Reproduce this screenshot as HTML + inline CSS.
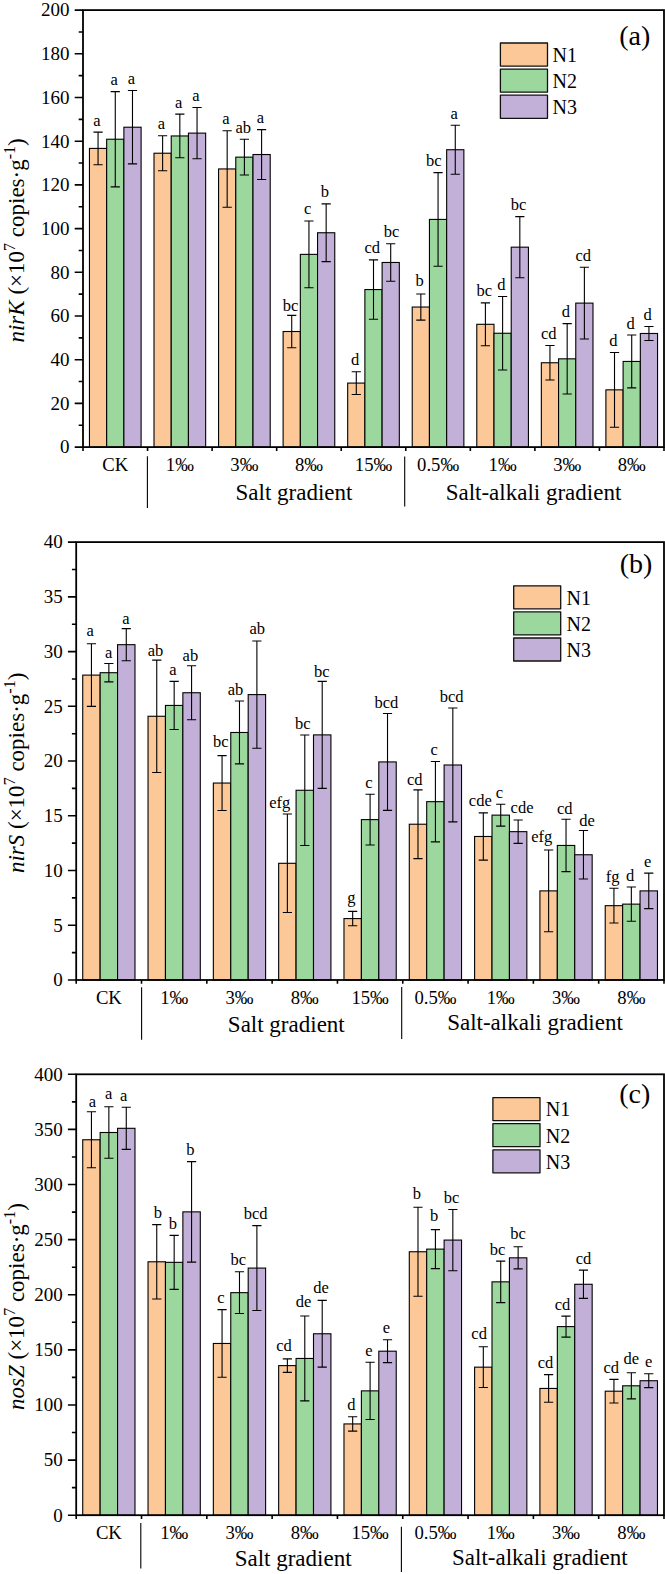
<!DOCTYPE html>
<html><head><meta charset="utf-8"><title>chart</title><style>html,body{margin:0;padding:0;background:#fff}body{width:665px;height:1574px;overflow:hidden;font-family:"Liberation Serif",serif}</style></head><body>
<svg width="665" height="1574" viewBox="0 0 665 1574" style="display:block">
<rect width="665" height="1574" fill="#fff"/>
<g font-family="'Liberation Serif', serif" fill="#000">
<rect x="89.46" y="148.41" width="17.21" height="298.69" fill="#FCC898" stroke="#000" stroke-width="1.1"/>
<rect x="106.67" y="139.23" width="17.21" height="307.87" fill="#9CD89E" stroke="#000" stroke-width="1.1"/>
<rect x="123.89" y="127.22" width="17.21" height="319.88" fill="#C3B0D9" stroke="#000" stroke-width="1.1"/>
<rect x="154.01" y="153.22" width="17.21" height="293.88" fill="#FCC898" stroke="#000" stroke-width="1.1"/>
<rect x="171.23" y="135.96" width="17.21" height="311.14" fill="#9CD89E" stroke="#000" stroke-width="1.1"/>
<rect x="188.44" y="133.12" width="17.21" height="313.98" fill="#C3B0D9" stroke="#000" stroke-width="1.1"/>
<rect x="218.57" y="168.95" width="17.21" height="278.15" fill="#FCC898" stroke="#000" stroke-width="1.1"/>
<rect x="235.78" y="157.15" width="17.21" height="289.95" fill="#9CD89E" stroke="#000" stroke-width="1.1"/>
<rect x="253" y="154.53" width="17.21" height="292.57" fill="#C3B0D9" stroke="#000" stroke-width="1.1"/>
<rect x="283.12" y="331.51" width="17.21" height="115.59" fill="#FCC898" stroke="#000" stroke-width="1.1"/>
<rect x="300.34" y="254.38" width="17.21" height="192.72" fill="#9CD89E" stroke="#000" stroke-width="1.1"/>
<rect x="317.55" y="232.75" width="17.21" height="214.35" fill="#C3B0D9" stroke="#000" stroke-width="1.1"/>
<rect x="347.68" y="383.08" width="17.21" height="64.02" fill="#FCC898" stroke="#000" stroke-width="1.1"/>
<rect x="364.89" y="289.56" width="17.21" height="157.54" fill="#9CD89E" stroke="#000" stroke-width="1.1"/>
<rect x="382.11" y="262.47" width="17.21" height="184.63" fill="#C3B0D9" stroke="#000" stroke-width="1.1"/>
<rect x="412.23" y="307.04" width="17.21" height="140.06" fill="#FCC898" stroke="#000" stroke-width="1.1"/>
<rect x="429.45" y="219.42" width="17.21" height="227.68" fill="#9CD89E" stroke="#000" stroke-width="1.1"/>
<rect x="446.66" y="149.72" width="17.21" height="297.38" fill="#C3B0D9" stroke="#000" stroke-width="1.1"/>
<rect x="476.79" y="324.3" width="17.21" height="122.8" fill="#FCC898" stroke="#000" stroke-width="1.1"/>
<rect x="494" y="333.26" width="17.21" height="113.84" fill="#9CD89E" stroke="#000" stroke-width="1.1"/>
<rect x="511.22" y="247.17" width="17.21" height="199.93" fill="#C3B0D9" stroke="#000" stroke-width="1.1"/>
<rect x="541.34" y="362.76" width="17.21" height="84.34" fill="#FCC898" stroke="#000" stroke-width="1.1"/>
<rect x="558.56" y="358.83" width="17.21" height="88.27" fill="#9CD89E" stroke="#000" stroke-width="1.1"/>
<rect x="575.77" y="303.11" width="17.21" height="143.99" fill="#C3B0D9" stroke="#000" stroke-width="1.1"/>
<rect x="605.9" y="389.85" width="17.21" height="57.25" fill="#FCC898" stroke="#000" stroke-width="1.1"/>
<rect x="623.11" y="361.45" width="17.21" height="85.65" fill="#9CD89E" stroke="#000" stroke-width="1.1"/>
<rect x="640.33" y="333.48" width="17.21" height="113.62" fill="#C3B0D9" stroke="#000" stroke-width="1.1"/>
<path d="M98.06 132.13V164.69M93.46 132.13H102.66M93.46 164.69H102.66" stroke="#000" stroke-width="1.1" fill="none"/>
<text x="96.86" y="125.63" font-size="16.5" text-anchor="middle">a</text>
<path d="M115.28 91.6V186.87M110.68 91.6H119.88M110.68 186.87H119.88" stroke="#000" stroke-width="1.1" fill="none"/>
<text x="114.08" y="85.1" font-size="16.5" text-anchor="middle">a</text>
<path d="M132.49 90.51V163.92M127.89 90.51H137.09M127.89 163.92H137.09" stroke="#000" stroke-width="1.1" fill="none"/>
<text x="131.29" y="84.01" font-size="16.5" text-anchor="middle">a</text>
<path d="M162.62 135.74V170.7M158.02 135.74H167.22M158.02 170.7H167.22" stroke="#000" stroke-width="1.1" fill="none"/>
<text x="161.42" y="129.24" font-size="16.5" text-anchor="middle">a</text>
<path d="M179.83 114.11V157.81M175.23 114.11H184.43M175.23 157.81H184.43" stroke="#000" stroke-width="1.1" fill="none"/>
<text x="178.63" y="107.61" font-size="16.5" text-anchor="middle">a</text>
<path d="M197.05 107.55V158.68M192.45 107.55H201.65M192.45 158.68H201.65" stroke="#000" stroke-width="1.1" fill="none"/>
<text x="195.85" y="101.05" font-size="16.5" text-anchor="middle">a</text>
<path d="M227.17 130.71V207.19M222.57 130.71H231.77M222.57 207.19H231.77" stroke="#000" stroke-width="1.1" fill="none"/>
<text x="225.97" y="124.21" font-size="16.5" text-anchor="middle">a</text>
<path d="M244.39 139.23V175.07M239.79 139.23H248.99M239.79 175.07H248.99" stroke="#000" stroke-width="1.1" fill="none"/>
<text x="243.19" y="132.73" font-size="16.5" text-anchor="middle">ab</text>
<path d="M261.6 129.62V179.44M257 129.62H266.2M257 179.44H266.2" stroke="#000" stroke-width="1.1" fill="none"/>
<text x="260.4" y="123.12" font-size="16.5" text-anchor="middle">a</text>
<path d="M291.73 315.34V347.68M287.13 315.34H296.33M287.13 347.68H296.33" stroke="#000" stroke-width="1.1" fill="none"/>
<text x="290.53" y="311.24" font-size="16.5" text-anchor="middle">bc</text>
<path d="M308.94 220.95V287.81M304.34 220.95H313.54M304.34 287.81H313.54" stroke="#000" stroke-width="1.1" fill="none"/>
<text x="307.74" y="214.45" font-size="16.5" text-anchor="middle">c</text>
<path d="M326.16 203.91V261.59M321.56 203.91H330.76M321.56 261.59H330.76" stroke="#000" stroke-width="1.1" fill="none"/>
<text x="324.96" y="197.41" font-size="16.5" text-anchor="middle">b</text>
<path d="M356.29 371.72V394.44M351.69 371.72H360.89M351.69 394.44H360.89" stroke="#000" stroke-width="1.1" fill="none"/>
<text x="355.09" y="365.22" font-size="16.5" text-anchor="middle">d</text>
<path d="M373.5 259.85V319.28M368.9 259.85H378.1M368.9 319.28H378.1" stroke="#000" stroke-width="1.1" fill="none"/>
<text x="372.3" y="253.35" font-size="16.5" text-anchor="middle">cd</text>
<path d="M390.71 243.68V281.26M386.11 243.68H395.31M386.11 281.26H395.31" stroke="#000" stroke-width="1.1" fill="none"/>
<text x="391.51" y="237.18" font-size="16.5" text-anchor="middle">bc</text>
<path d="M420.84 293.93V320.15M416.24 293.93H425.44M416.24 320.15H425.44" stroke="#000" stroke-width="1.1" fill="none"/>
<text x="419.64" y="285.93" font-size="16.5" text-anchor="middle">b</text>
<path d="M438.06 172.66V266.18M433.46 172.66H442.66M433.46 266.18H442.66" stroke="#000" stroke-width="1.1" fill="none"/>
<text x="433.86" y="166.16" font-size="16.5" text-anchor="middle">bc</text>
<path d="M455.27 125.25V174.19M450.67 125.25H459.87M450.67 174.19H459.87" stroke="#000" stroke-width="1.1" fill="none"/>
<text x="454.07" y="118.75" font-size="16.5" text-anchor="middle">a</text>
<path d="M485.4 302.89V345.72M480.8 302.89H490M480.8 345.72H490" stroke="#000" stroke-width="1.1" fill="none"/>
<text x="484.2" y="296.39" font-size="16.5" text-anchor="middle">bc</text>
<path d="M502.61 296.55V369.97M498.01 296.55H507.21M498.01 369.97H507.21" stroke="#000" stroke-width="1.1" fill="none"/>
<text x="501.41" y="290.05" font-size="16.5" text-anchor="middle">d</text>
<path d="M519.83 216.58V277.76M515.23 216.58H524.43M515.23 277.76H524.43" stroke="#000" stroke-width="1.1" fill="none"/>
<text x="518.63" y="210.08" font-size="16.5" text-anchor="middle">bc</text>
<path d="M549.95 345.5V380.02M545.35 345.5H554.55M545.35 380.02H554.55" stroke="#000" stroke-width="1.1" fill="none"/>
<text x="548.75" y="339" font-size="16.5" text-anchor="middle">cd</text>
<path d="M567.17 323.65V394M562.57 323.65H571.77M562.57 394H571.77" stroke="#000" stroke-width="1.1" fill="none"/>
<text x="565.97" y="317.15" font-size="16.5" text-anchor="middle">d</text>
<path d="M584.38 267.27V338.94M579.78 267.27H588.98M579.78 338.94H588.98" stroke="#000" stroke-width="1.1" fill="none"/>
<text x="583.18" y="260.77" font-size="16.5" text-anchor="middle">cd</text>
<path d="M614.51 352.49V427.22M609.91 352.49H619.11M609.91 427.22H619.11" stroke="#000" stroke-width="1.1" fill="none"/>
<text x="613.31" y="345.99" font-size="16.5" text-anchor="middle">d</text>
<path d="M631.72 335.01V387.89M627.12 335.01H636.32M627.12 387.89H636.32" stroke="#000" stroke-width="1.1" fill="none"/>
<text x="630.52" y="328.51" font-size="16.5" text-anchor="middle">d</text>
<path d="M648.94 326.49V340.47M644.34 326.49H653.54M644.34 340.47H653.54" stroke="#000" stroke-width="1.1" fill="none"/>
<text x="647.74" y="319.99" font-size="16.5" text-anchor="middle">d</text>
<rect x="83" y="10.1" width="581" height="437" fill="none" stroke="#000" stroke-width="1.8"/>
<text x="69.6" y="453.4" font-size="19" text-anchor="end">0</text>
<text x="69.6" y="409.7" font-size="19" text-anchor="end">20</text>
<text x="69.6" y="366" font-size="19" text-anchor="end">40</text>
<text x="69.6" y="322.3" font-size="19" text-anchor="end">60</text>
<text x="69.6" y="278.6" font-size="19" text-anchor="end">80</text>
<text x="69.6" y="234.9" font-size="19" text-anchor="end">100</text>
<text x="69.6" y="191.2" font-size="19" text-anchor="end">120</text>
<text x="69.6" y="147.5" font-size="19" text-anchor="end">140</text>
<text x="69.6" y="103.8" font-size="19" text-anchor="end">160</text>
<text x="69.6" y="60.1" font-size="19" text-anchor="end">180</text>
<text x="69.6" y="16.4" font-size="19" text-anchor="end">200</text>
<path d="M74.7 447.1H83M78.7 425.25H83M74.7 403.4H83M78.7 381.55H83M74.7 359.7H83M78.7 337.85H83M74.7 316H83M78.7 294.15H83M74.7 272.3H83M78.7 250.45H83M74.7 228.6H83M78.7 206.75H83M74.7 184.9H83M78.7 163.05H83M74.7 141.2H83M78.7 119.35H83M74.7 97.5H83M78.7 75.65H83M74.7 53.8H83M78.7 31.95H83M74.7 10.1H83M83 447.1V450.9M147.56 447.1V450.9M212.11 447.1V450.9M276.67 447.1V450.9M341.22 447.1V450.9M405.78 447.1V450.9M470.33 447.1V450.9M534.89 447.1V450.9M599.44 447.1V450.9M664 447.1V450.9" stroke="#000" stroke-width="1.6" fill="none"/>
<text x="115.28" y="471.2" font-size="18.7" text-anchor="middle">CK</text>
<text x="179.83" y="471.2" font-size="18.7" text-anchor="middle">1‰</text>
<text x="244.39" y="471.2" font-size="18.7" text-anchor="middle">3‰</text>
<text x="308.94" y="471.2" font-size="18.7" text-anchor="middle">8‰</text>
<text x="373.5" y="471.2" font-size="18.7" text-anchor="middle">15‰</text>
<text x="438.06" y="471.2" font-size="18.7" text-anchor="middle">0.5‰</text>
<text x="502.61" y="471.2" font-size="18.7" text-anchor="middle">1‰</text>
<text x="567.17" y="471.2" font-size="18.7" text-anchor="middle">3‰</text>
<text x="631.72" y="471.2" font-size="18.7" text-anchor="middle">8‰</text>
<path d="M147.4 456.3V507.9" stroke="#000" stroke-width="1.1" fill="none"/>
<path d="M404.7 456.6V506.5" stroke="#000" stroke-width="1.1" fill="none"/>
<text x="294" y="499.9" font-size="23" text-anchor="middle">Salt gradient</text>
<text x="533.5" y="499.7" font-size="23" text-anchor="middle">Salt-alkali gradient</text>
<rect x="500.4" y="43" width="47.1" height="23.1" fill="#FCC898" stroke="#111" stroke-width="1.3" stroke-linejoin="round"/>
<text x="552.6" y="61.8" font-size="20">N1</text>
<rect x="500.4" y="69.1" width="47.1" height="23.1" fill="#9CD89E" stroke="#111" stroke-width="1.3" stroke-linejoin="round"/>
<text x="552.6" y="87.9" font-size="20">N2</text>
<rect x="500.4" y="95.2" width="47.1" height="23.1" fill="#C3B0D9" stroke="#111" stroke-width="1.3" stroke-linejoin="round"/>
<text x="552.6" y="114" font-size="20">N3</text>
<text x="634.8" y="44.9" font-size="28" text-anchor="middle">(a)</text>
<text transform="translate(24.2 240.4) rotate(-90)" font-size="23" text-anchor="middle"><tspan font-style="italic">nirK</tspan> (×10<tspan font-size="16" dy="-9.3">7</tspan><tspan dy="9.3"> copies·g</tspan><tspan font-size="16" dy="-9.3">-1</tspan><tspan dy="9.3">)</tspan></text>
<rect x="82.73" y="675.11" width="17.42" height="304.89" fill="#FCC898" stroke="#000" stroke-width="1.1"/>
<rect x="100.15" y="672.7" width="17.42" height="307.3" fill="#9CD89E" stroke="#000" stroke-width="1.1"/>
<rect x="117.56" y="644.68" width="17.42" height="335.32" fill="#C3B0D9" stroke="#000" stroke-width="1.1"/>
<rect x="148.04" y="716.27" width="17.42" height="263.73" fill="#FCC898" stroke="#000" stroke-width="1.1"/>
<rect x="165.46" y="705.44" width="17.42" height="274.56" fill="#9CD89E" stroke="#000" stroke-width="1.1"/>
<rect x="182.87" y="692.74" width="17.42" height="287.26" fill="#C3B0D9" stroke="#000" stroke-width="1.1"/>
<rect x="213.35" y="783.05" width="17.42" height="196.95" fill="#FCC898" stroke="#000" stroke-width="1.1"/>
<rect x="230.77" y="732.48" width="17.42" height="247.52" fill="#9CD89E" stroke="#000" stroke-width="1.1"/>
<rect x="248.19" y="694.6" width="17.42" height="285.4" fill="#C3B0D9" stroke="#000" stroke-width="1.1"/>
<rect x="278.66" y="863.3" width="17.42" height="116.7" fill="#FCC898" stroke="#000" stroke-width="1.1"/>
<rect x="296.08" y="790.28" width="17.42" height="189.72" fill="#9CD89E" stroke="#000" stroke-width="1.1"/>
<rect x="313.5" y="734.89" width="17.42" height="245.11" fill="#C3B0D9" stroke="#000" stroke-width="1.1"/>
<rect x="343.98" y="918.58" width="17.42" height="61.42" fill="#FCC898" stroke="#000" stroke-width="1.1"/>
<rect x="361.39" y="819.62" width="17.42" height="160.38" fill="#9CD89E" stroke="#000" stroke-width="1.1"/>
<rect x="378.81" y="761.93" width="17.42" height="218.07" fill="#C3B0D9" stroke="#000" stroke-width="1.1"/>
<rect x="409.29" y="824.22" width="17.42" height="155.78" fill="#FCC898" stroke="#000" stroke-width="1.1"/>
<rect x="426.7" y="801.67" width="17.42" height="178.33" fill="#9CD89E" stroke="#000" stroke-width="1.1"/>
<rect x="444.12" y="764.99" width="17.42" height="215.01" fill="#C3B0D9" stroke="#000" stroke-width="1.1"/>
<rect x="474.6" y="836.48" width="17.42" height="143.52" fill="#FCC898" stroke="#000" stroke-width="1.1"/>
<rect x="492.01" y="815.13" width="17.42" height="164.87" fill="#9CD89E" stroke="#000" stroke-width="1.1"/>
<rect x="509.43" y="831.66" width="17.42" height="148.34" fill="#C3B0D9" stroke="#000" stroke-width="1.1"/>
<rect x="539.91" y="890.89" width="17.42" height="89.11" fill="#FCC898" stroke="#000" stroke-width="1.1"/>
<rect x="557.33" y="845.46" width="17.42" height="134.54" fill="#9CD89E" stroke="#000" stroke-width="1.1"/>
<rect x="574.74" y="854.76" width="17.42" height="125.24" fill="#C3B0D9" stroke="#000" stroke-width="1.1"/>
<rect x="605.22" y="905.67" width="17.42" height="74.33" fill="#FCC898" stroke="#000" stroke-width="1.1"/>
<rect x="622.64" y="904.13" width="17.42" height="75.87" fill="#9CD89E" stroke="#000" stroke-width="1.1"/>
<rect x="640.05" y="890.89" width="17.42" height="89.11" fill="#C3B0D9" stroke="#000" stroke-width="1.1"/>
<path d="M91.44 643.8V706.42M86.84 643.8H96.04M86.84 706.42H96.04" stroke="#000" stroke-width="1.1" fill="none"/>
<text x="90.24" y="636.1" font-size="16.5" text-anchor="middle">a</text>
<path d="M108.86 663.51V681.9M104.26 663.51H113.46M104.26 681.9H113.46" stroke="#000" stroke-width="1.1" fill="none"/>
<text x="108.56" y="657.61" font-size="16.5" text-anchor="middle">a</text>
<path d="M126.27 628.59V660.77M121.67 628.59H130.87M121.67 660.77H130.87" stroke="#000" stroke-width="1.1" fill="none"/>
<text x="125.97" y="623.89" font-size="16.5" text-anchor="middle">a</text>
<path d="M156.75 660.11V772.44M152.15 660.11H161.35M152.15 772.44H161.35" stroke="#000" stroke-width="1.1" fill="none"/>
<text x="155.55" y="656.31" font-size="16.5" text-anchor="middle">ab</text>
<path d="M174.17 681.35V729.52M169.57 681.35H178.77M169.57 729.52H178.77" stroke="#000" stroke-width="1.1" fill="none"/>
<text x="172.97" y="674.85" font-size="16.5" text-anchor="middle">a</text>
<path d="M191.58 665.7V719.78M186.98 665.7H196.18M186.98 719.78H196.18" stroke="#000" stroke-width="1.1" fill="none"/>
<text x="190.38" y="660.7" font-size="16.5" text-anchor="middle">ab</text>
<path d="M222.06 755.58V810.53M217.46 755.58H226.66M217.46 810.53H226.66" stroke="#000" stroke-width="1.1" fill="none"/>
<text x="220.86" y="746.98" font-size="16.5" text-anchor="middle">bc</text>
<path d="M239.48 701.06V763.9M234.88 701.06H244.08M234.88 763.9H244.08" stroke="#000" stroke-width="1.1" fill="none"/>
<text x="235.58" y="694.56" font-size="16.5" text-anchor="middle">ab</text>
<path d="M256.89 640.96V748.24M252.29 640.96H261.49M252.29 748.24H261.49" stroke="#000" stroke-width="1.1" fill="none"/>
<text x="257.19" y="634.46" font-size="16.5" text-anchor="middle">ab</text>
<path d="M287.37 814.04V912.56M282.77 814.04H291.97M282.77 912.56H291.97" stroke="#000" stroke-width="1.1" fill="none"/>
<text x="279.67" y="807.54" font-size="16.5" text-anchor="middle">efg</text>
<path d="M304.79 734.99V845.56M300.19 734.99H309.39M300.19 845.56H309.39" stroke="#000" stroke-width="1.1" fill="none"/>
<text x="302.69" y="729.39" font-size="16.5" text-anchor="middle">bc</text>
<path d="M322.21 681.35V788.42M317.61 681.35H326.81M317.61 788.42H326.81" stroke="#000" stroke-width="1.1" fill="none"/>
<text x="321.91" y="677.25" font-size="16.5" text-anchor="middle">bc</text>
<path d="M352.68 911.36V925.81M348.08 911.36H357.28M348.08 925.81H357.28" stroke="#000" stroke-width="1.1" fill="none"/>
<text x="351.48" y="903.36" font-size="16.5" text-anchor="middle">g</text>
<path d="M370.1 794.22V845.02M365.5 794.22H374.7M365.5 845.02H374.7" stroke="#000" stroke-width="1.1" fill="none"/>
<text x="368.9" y="787.72" font-size="16.5" text-anchor="middle">c</text>
<path d="M387.52 713.43V810.42M382.92 713.43H392.12M382.92 810.42H392.12" stroke="#000" stroke-width="1.1" fill="none"/>
<text x="386.32" y="708.43" font-size="16.5" text-anchor="middle">bcd</text>
<path d="M417.99 789.84V858.59M413.39 789.84H422.59M413.39 858.59H422.59" stroke="#000" stroke-width="1.1" fill="none"/>
<text x="414.69" y="784.54" font-size="16.5" text-anchor="middle">cd</text>
<path d="M435.41 761.49V841.84M430.81 761.49H440.01M430.81 841.84H440.01" stroke="#000" stroke-width="1.1" fill="none"/>
<text x="434.21" y="754.99" font-size="16.5" text-anchor="middle">c</text>
<path d="M452.83 708.06V821.92M448.23 708.06H457.43M448.23 821.92H457.43" stroke="#000" stroke-width="1.1" fill="none"/>
<text x="451.63" y="701.56" font-size="16.5" text-anchor="middle">bcd</text>
<path d="M483.31 812.83V860.12M478.71 812.83H487.91M478.71 860.12H487.91" stroke="#000" stroke-width="1.1" fill="none"/>
<text x="480.31" y="806.33" font-size="16.5" text-anchor="middle">cde</text>
<path d="M500.72 804.18V826.08M496.12 804.18H505.32M496.12 826.08H505.32" stroke="#000" stroke-width="1.1" fill="none"/>
<text x="499.52" y="797.68" font-size="16.5" text-anchor="middle">c</text>
<path d="M518.14 819.95V843.38M513.54 819.95H522.74M513.54 843.38H522.74" stroke="#000" stroke-width="1.1" fill="none"/>
<text x="522.04" y="813.45" font-size="16.5" text-anchor="middle">cde</text>
<path d="M548.62 850.05V931.72M544.02 850.05H553.22M544.02 931.72H553.22" stroke="#000" stroke-width="1.1" fill="none"/>
<text x="541.72" y="842.05" font-size="16.5" text-anchor="middle">efg</text>
<path d="M566.03 819.29V871.62M561.43 819.29H570.63M561.43 871.62H570.63" stroke="#000" stroke-width="1.1" fill="none"/>
<text x="564.83" y="814.29" font-size="16.5" text-anchor="middle">cd</text>
<path d="M583.45 830.57V878.95M578.85 830.57H588.05M578.85 878.95H588.05" stroke="#000" stroke-width="1.1" fill="none"/>
<text x="587.05" y="826.17" font-size="16.5" text-anchor="middle">de</text>
<path d="M613.93 888.26V923.07M609.33 888.26H618.53M609.33 923.07H618.53" stroke="#000" stroke-width="1.1" fill="none"/>
<text x="612.73" y="881.76" font-size="16.5" text-anchor="middle">fg</text>
<path d="M631.34 887.06V921.21M626.74 887.06H635.94M626.74 921.21H635.94" stroke="#000" stroke-width="1.1" fill="none"/>
<text x="630.14" y="880.56" font-size="16.5" text-anchor="middle">d</text>
<path d="M648.76 873.15V908.62M644.16 873.15H653.36M644.16 908.62H653.36" stroke="#000" stroke-width="1.1" fill="none"/>
<text x="647.56" y="866.65" font-size="16.5" text-anchor="middle">e</text>
<rect x="76.2" y="542.1" width="587.8" height="437.9" fill="none" stroke="#000" stroke-width="1.8"/>
<text x="62.8" y="986.3" font-size="19" text-anchor="end">0</text>
<text x="62.8" y="931.56" font-size="19" text-anchor="end">5</text>
<text x="62.8" y="876.82" font-size="19" text-anchor="end">10</text>
<text x="62.8" y="822.09" font-size="19" text-anchor="end">15</text>
<text x="62.8" y="767.35" font-size="19" text-anchor="end">20</text>
<text x="62.8" y="712.61" font-size="19" text-anchor="end">25</text>
<text x="62.8" y="657.88" font-size="19" text-anchor="end">30</text>
<text x="62.8" y="603.14" font-size="19" text-anchor="end">35</text>
<text x="62.8" y="548.4" font-size="19" text-anchor="end">40</text>
<path d="M67.9 980H76.2M71.9 952.63H76.2M67.9 925.26H76.2M71.9 897.89H76.2M67.9 870.52H76.2M71.9 843.16H76.2M67.9 815.79H76.2M71.9 788.42H76.2M67.9 761.05H76.2M71.9 733.68H76.2M67.9 706.31H76.2M71.9 678.94H76.2M67.9 651.58H76.2M71.9 624.21H76.2M67.9 596.84H76.2M71.9 569.47H76.2M67.9 542.1H76.2M76.2 980V983.8M141.51 980V983.8M206.82 980V983.8M272.13 980V983.8M337.44 980V983.8M402.76 980V983.8M468.07 980V983.8M533.38 980V983.8M598.69 980V983.8M664 980V983.8" stroke="#000" stroke-width="1.6" fill="none"/>
<text x="108.86" y="1004.1" font-size="18.7" text-anchor="middle">CK</text>
<text x="174.17" y="1004.1" font-size="18.7" text-anchor="middle">1‰</text>
<text x="239.48" y="1004.1" font-size="18.7" text-anchor="middle">3‰</text>
<text x="304.79" y="1004.1" font-size="18.7" text-anchor="middle">8‰</text>
<text x="370.1" y="1004.1" font-size="18.7" text-anchor="middle">15‰</text>
<text x="435.41" y="1004.1" font-size="18.7" text-anchor="middle">0.5‰</text>
<text x="500.72" y="1004.1" font-size="18.7" text-anchor="middle">1‰</text>
<text x="566.03" y="1004.1" font-size="18.7" text-anchor="middle">3‰</text>
<text x="631.34" y="1004.1" font-size="18.7" text-anchor="middle">8‰</text>
<path d="M141.6 987.3V1039.7" stroke="#000" stroke-width="1.1" fill="none"/>
<path d="M401.7 987V1039.1" stroke="#000" stroke-width="1.1" fill="none"/>
<text x="286.3" y="1031.5" font-size="23" text-anchor="middle">Salt gradient</text>
<text x="535" y="1030" font-size="23" text-anchor="middle">Salt-alkali gradient</text>
<rect x="513.7" y="585.8" width="47" height="23" fill="#FCC898" stroke="#111" stroke-width="1.3" stroke-linejoin="round"/>
<text x="566.6" y="604.6" font-size="20">N1</text>
<rect x="513.7" y="611.9" width="47" height="23" fill="#9CD89E" stroke="#111" stroke-width="1.3" stroke-linejoin="round"/>
<text x="566.6" y="630.7" font-size="20">N2</text>
<rect x="513.7" y="638" width="47" height="23" fill="#C3B0D9" stroke="#111" stroke-width="1.3" stroke-linejoin="round"/>
<text x="566.6" y="656.8" font-size="20">N3</text>
<text x="636" y="573" font-size="28" text-anchor="middle">(b)</text>
<text transform="translate(24.2 772.9) rotate(-90)" font-size="23" text-anchor="middle"><tspan font-style="italic">nirS</tspan> (×10<tspan font-size="16" dy="-9.3">7</tspan><tspan dy="9.3"> copies·g</tspan><tspan font-size="16" dy="-9.3">-1</tspan><tspan dy="9.3">)</tspan></text>
<rect x="82.73" y="1139.77" width="17.42" height="375.43" fill="#FCC898" stroke="#000" stroke-width="1.1"/>
<rect x="100.15" y="1132.5" width="17.42" height="382.7" fill="#9CD89E" stroke="#000" stroke-width="1.1"/>
<rect x="117.56" y="1128.31" width="17.42" height="386.89" fill="#C3B0D9" stroke="#000" stroke-width="1.1"/>
<rect x="148.04" y="1261.79" width="17.42" height="253.41" fill="#FCC898" stroke="#000" stroke-width="1.1"/>
<rect x="165.46" y="1262.34" width="17.42" height="252.86" fill="#9CD89E" stroke="#000" stroke-width="1.1"/>
<rect x="182.87" y="1211.86" width="17.42" height="303.34" fill="#C3B0D9" stroke="#000" stroke-width="1.1"/>
<rect x="213.35" y="1343.47" width="17.42" height="171.73" fill="#FCC898" stroke="#000" stroke-width="1.1"/>
<rect x="230.77" y="1292.66" width="17.42" height="222.54" fill="#9CD89E" stroke="#000" stroke-width="1.1"/>
<rect x="248.19" y="1268.08" width="17.42" height="247.12" fill="#C3B0D9" stroke="#000" stroke-width="1.1"/>
<rect x="278.66" y="1365.62" width="17.42" height="149.58" fill="#FCC898" stroke="#000" stroke-width="1.1"/>
<rect x="296.08" y="1358.46" width="17.42" height="156.74" fill="#9CD89E" stroke="#000" stroke-width="1.1"/>
<rect x="313.5" y="1333.77" width="17.42" height="181.43" fill="#C3B0D9" stroke="#000" stroke-width="1.1"/>
<rect x="343.98" y="1423.93" width="17.42" height="91.27" fill="#FCC898" stroke="#000" stroke-width="1.1"/>
<rect x="361.39" y="1390.87" width="17.42" height="124.33" fill="#9CD89E" stroke="#000" stroke-width="1.1"/>
<rect x="378.81" y="1351.19" width="17.42" height="164.01" fill="#C3B0D9" stroke="#000" stroke-width="1.1"/>
<rect x="409.29" y="1251.76" width="17.42" height="263.44" fill="#FCC898" stroke="#000" stroke-width="1.1"/>
<rect x="426.7" y="1249.12" width="17.42" height="266.08" fill="#9CD89E" stroke="#000" stroke-width="1.1"/>
<rect x="444.12" y="1240.08" width="17.42" height="275.12" fill="#C3B0D9" stroke="#000" stroke-width="1.1"/>
<rect x="474.6" y="1367.17" width="17.42" height="148.03" fill="#FCC898" stroke="#000" stroke-width="1.1"/>
<rect x="492.01" y="1281.85" width="17.42" height="233.35" fill="#9CD89E" stroke="#000" stroke-width="1.1"/>
<rect x="509.43" y="1257.82" width="17.42" height="257.38" fill="#C3B0D9" stroke="#000" stroke-width="1.1"/>
<rect x="539.91" y="1388.44" width="17.42" height="126.76" fill="#FCC898" stroke="#000" stroke-width="1.1"/>
<rect x="557.33" y="1326.61" width="17.42" height="188.59" fill="#9CD89E" stroke="#000" stroke-width="1.1"/>
<rect x="574.74" y="1284.28" width="17.42" height="230.92" fill="#C3B0D9" stroke="#000" stroke-width="1.1"/>
<rect x="605.22" y="1391.2" width="17.42" height="124" fill="#FCC898" stroke="#000" stroke-width="1.1"/>
<rect x="622.64" y="1385.8" width="17.42" height="129.4" fill="#9CD89E" stroke="#000" stroke-width="1.1"/>
<rect x="640.05" y="1380.73" width="17.42" height="134.47" fill="#C3B0D9" stroke="#000" stroke-width="1.1"/>
<path d="M91.44 1111.78V1167.77M86.84 1111.78H96.04M86.84 1167.77H96.04" stroke="#000" stroke-width="1.1" fill="none"/>
<text x="92.34" y="1106.78" font-size="16.5" text-anchor="middle">a</text>
<path d="M108.86 1106.82V1158.18M104.26 1106.82H113.46M104.26 1158.18H113.46" stroke="#000" stroke-width="1.1" fill="none"/>
<text x="108.56" y="1099.42" font-size="16.5" text-anchor="middle">a</text>
<path d="M126.27 1107.26V1149.36M121.67 1107.26H130.87M121.67 1149.36H130.87" stroke="#000" stroke-width="1.1" fill="none"/>
<text x="123.57" y="1101.36" font-size="16.5" text-anchor="middle">a</text>
<path d="M156.75 1224.65V1298.94M152.15 1224.65H161.35M152.15 1298.94H161.35" stroke="#000" stroke-width="1.1" fill="none"/>
<text x="157.75" y="1218.15" font-size="16.5" text-anchor="middle">b</text>
<path d="M174.17 1235.34V1289.35M169.57 1235.34H178.77M169.57 1289.35H178.77" stroke="#000" stroke-width="1.1" fill="none"/>
<text x="172.97" y="1228.84" font-size="16.5" text-anchor="middle">b</text>
<path d="M191.58 1161.6V1262.12M186.98 1161.6H196.18M186.98 1262.12H196.18" stroke="#000" stroke-width="1.1" fill="none"/>
<text x="190.38" y="1155.1" font-size="16.5" text-anchor="middle">b</text>
<path d="M222.06 1309.63V1377.31M217.46 1309.63H226.66M217.46 1377.31H226.66" stroke="#000" stroke-width="1.1" fill="none"/>
<text x="220.86" y="1303.13" font-size="16.5" text-anchor="middle">c</text>
<path d="M239.48 1271.82V1313.49M234.88 1271.82H244.08M234.88 1313.49H244.08" stroke="#000" stroke-width="1.1" fill="none"/>
<text x="238.28" y="1265.32" font-size="16.5" text-anchor="middle">bc</text>
<path d="M256.89 1225.64V1310.51M252.29 1225.64H261.49M252.29 1310.51H261.49" stroke="#000" stroke-width="1.1" fill="none"/>
<text x="255.69" y="1219.14" font-size="16.5" text-anchor="middle">bcd</text>
<path d="M287.37 1358.9V1372.35M282.77 1358.9H291.97M282.77 1372.35H291.97" stroke="#000" stroke-width="1.1" fill="none"/>
<text x="284.07" y="1350.9" font-size="16.5" text-anchor="middle">cd</text>
<path d="M304.79 1316.02V1400.9M300.19 1316.02H309.39M300.19 1400.9H309.39" stroke="#000" stroke-width="1.1" fill="none"/>
<text x="303.59" y="1306.52" font-size="16.5" text-anchor="middle">de</text>
<path d="M322.21 1300.37V1367.17M317.61 1300.37H326.81M317.61 1367.17H326.81" stroke="#000" stroke-width="1.1" fill="none"/>
<text x="321.01" y="1292.67" font-size="16.5" text-anchor="middle">de</text>
<path d="M352.68 1416.77V1431.1M348.08 1416.77H357.28M348.08 1431.1H357.28" stroke="#000" stroke-width="1.1" fill="none"/>
<text x="351.48" y="1410.27" font-size="16.5" text-anchor="middle">d</text>
<path d="M370.1 1362.21V1419.52M365.5 1362.21H374.7M365.5 1419.52H374.7" stroke="#000" stroke-width="1.1" fill="none"/>
<text x="368.9" y="1355.71" font-size="16.5" text-anchor="middle">e</text>
<path d="M387.52 1339.72V1362.65M382.92 1339.72H392.12M382.92 1362.65H392.12" stroke="#000" stroke-width="1.1" fill="none"/>
<text x="386.32" y="1333.22" font-size="16.5" text-anchor="middle">e</text>
<path d="M417.99 1207.23V1296.29M413.39 1207.23H422.59M413.39 1296.29H422.59" stroke="#000" stroke-width="1.1" fill="none"/>
<text x="416.79" y="1199.23" font-size="16.5" text-anchor="middle">b</text>
<path d="M435.41 1229.61V1268.63M430.81 1229.61H440.01M430.81 1268.63H440.01" stroke="#000" stroke-width="1.1" fill="none"/>
<text x="434.21" y="1221.01" font-size="16.5" text-anchor="middle">b</text>
<path d="M452.83 1209.44V1270.72M448.23 1209.44H457.43M448.23 1270.72H457.43" stroke="#000" stroke-width="1.1" fill="none"/>
<text x="451.63" y="1202.94" font-size="16.5" text-anchor="middle">bc</text>
<path d="M483.31 1346.78V1387.56M478.71 1346.78H487.91M478.71 1387.56H487.91" stroke="#000" stroke-width="1.1" fill="none"/>
<text x="479.11" y="1338.78" font-size="16.5" text-anchor="middle">cd</text>
<path d="M500.72 1261.13V1302.58M496.12 1261.13H505.32M496.12 1302.58H505.32" stroke="#000" stroke-width="1.1" fill="none"/>
<text x="497.52" y="1254.63" font-size="16.5" text-anchor="middle">bc</text>
<path d="M518.14 1246.8V1268.85M513.54 1246.8H522.74M513.54 1268.85H522.74" stroke="#000" stroke-width="1.1" fill="none"/>
<text x="518.14" y="1238.8" font-size="16.5" text-anchor="middle">bc</text>
<path d="M548.62 1374.66V1402.22M544.02 1374.66H553.22M544.02 1402.22H553.22" stroke="#000" stroke-width="1.1" fill="none"/>
<text x="545.42" y="1368.16" font-size="16.5" text-anchor="middle">cd</text>
<path d="M566.03 1316.13V1337.08M561.43 1316.13H570.63M561.43 1337.08H570.63" stroke="#000" stroke-width="1.1" fill="none"/>
<text x="562.53" y="1309.63" font-size="16.5" text-anchor="middle">cd</text>
<path d="M583.45 1270.17V1298.39M578.85 1270.17H588.05M578.85 1298.39H588.05" stroke="#000" stroke-width="1.1" fill="none"/>
<text x="583.45" y="1263.67" font-size="16.5" text-anchor="middle">cd</text>
<path d="M613.93 1379.4V1402.99M609.33 1379.4H618.53M609.33 1402.99H618.53" stroke="#000" stroke-width="1.1" fill="none"/>
<text x="611.33" y="1372.9" font-size="16.5" text-anchor="middle">cd</text>
<path d="M631.34 1372.68V1398.91M626.74 1372.68H635.94M626.74 1398.91H635.94" stroke="#000" stroke-width="1.1" fill="none"/>
<text x="631.34" y="1363.68" font-size="16.5" text-anchor="middle">de</text>
<path d="M648.76 1373.78V1387.67M644.16 1373.78H653.36M644.16 1387.67H653.36" stroke="#000" stroke-width="1.1" fill="none"/>
<text x="648.76" y="1367.28" font-size="16.5" text-anchor="middle">e</text>
<rect x="76.2" y="1074.3" width="587.8" height="440.9" fill="none" stroke="#000" stroke-width="1.8"/>
<text x="62.8" y="1521.5" font-size="19" text-anchor="end">0</text>
<text x="62.8" y="1466.39" font-size="19" text-anchor="end">50</text>
<text x="62.8" y="1411.27" font-size="19" text-anchor="end">100</text>
<text x="62.8" y="1356.16" font-size="19" text-anchor="end">150</text>
<text x="62.8" y="1301.05" font-size="19" text-anchor="end">200</text>
<text x="62.8" y="1245.94" font-size="19" text-anchor="end">250</text>
<text x="62.8" y="1190.83" font-size="19" text-anchor="end">300</text>
<text x="62.8" y="1135.71" font-size="19" text-anchor="end">350</text>
<text x="62.8" y="1080.6" font-size="19" text-anchor="end">400</text>
<path d="M67.9 1515.2H76.2M71.9 1487.64H76.2M67.9 1460.09H76.2M71.9 1432.53H76.2M67.9 1404.97H76.2M71.9 1377.42H76.2M67.9 1349.86H76.2M71.9 1322.31H76.2M67.9 1294.75H76.2M71.9 1267.19H76.2M67.9 1239.64H76.2M71.9 1212.08H76.2M67.9 1184.53H76.2M71.9 1156.97H76.2M67.9 1129.41H76.2M71.9 1101.86H76.2M67.9 1074.3H76.2M76.2 1515.2V1519M141.51 1515.2V1519M206.82 1515.2V1519M272.13 1515.2V1519M337.44 1515.2V1519M402.76 1515.2V1519M468.07 1515.2V1519M533.38 1515.2V1519M598.69 1515.2V1519M664 1515.2V1519" stroke="#000" stroke-width="1.6" fill="none"/>
<text x="108.86" y="1539.3" font-size="18.7" text-anchor="middle">CK</text>
<text x="174.17" y="1539.3" font-size="18.7" text-anchor="middle">1‰</text>
<text x="239.48" y="1539.3" font-size="18.7" text-anchor="middle">3‰</text>
<text x="304.79" y="1539.3" font-size="18.7" text-anchor="middle">8‰</text>
<text x="370.1" y="1539.3" font-size="18.7" text-anchor="middle">15‰</text>
<text x="435.41" y="1539.3" font-size="18.7" text-anchor="middle">0.5‰</text>
<text x="500.72" y="1539.3" font-size="18.7" text-anchor="middle">1‰</text>
<text x="566.03" y="1539.3" font-size="18.7" text-anchor="middle">3‰</text>
<text x="631.34" y="1539.3" font-size="18.7" text-anchor="middle">8‰</text>
<path d="M140.8 1522.9V1568.6" stroke="#000" stroke-width="1.1" fill="none"/>
<path d="M401.4 1526.8V1571.9" stroke="#000" stroke-width="1.1" fill="none"/>
<text x="293.1" y="1566.2" font-size="23" text-anchor="middle">Salt gradient</text>
<text x="539.9" y="1565" font-size="23" text-anchor="middle">Salt-alkali gradient</text>
<rect x="492.9" y="1097.6" width="47.1" height="23" fill="#FCC898" stroke="#111" stroke-width="1.3" stroke-linejoin="round"/>
<text x="545.8" y="1116.4" font-size="20">N1</text>
<rect x="492.9" y="1123.7" width="47.1" height="23" fill="#9CD89E" stroke="#111" stroke-width="1.3" stroke-linejoin="round"/>
<text x="545.8" y="1142.5" font-size="20">N2</text>
<rect x="492.9" y="1149.8" width="47.1" height="23" fill="#C3B0D9" stroke="#111" stroke-width="1.3" stroke-linejoin="round"/>
<text x="545.8" y="1168.6" font-size="20">N3</text>
<text x="634.8" y="1102.6" font-size="28" text-anchor="middle">(c)</text>
<text transform="translate(24.2 1306.6) rotate(-90)" font-size="23" text-anchor="middle"><tspan font-style="italic">nosZ</tspan> (×10<tspan font-size="16" dy="-9.3">7</tspan><tspan dy="9.3"> copies·g</tspan><tspan font-size="16" dy="-9.3">-1</tspan><tspan dy="9.3">)</tspan></text>
</g></svg>
</body></html>
